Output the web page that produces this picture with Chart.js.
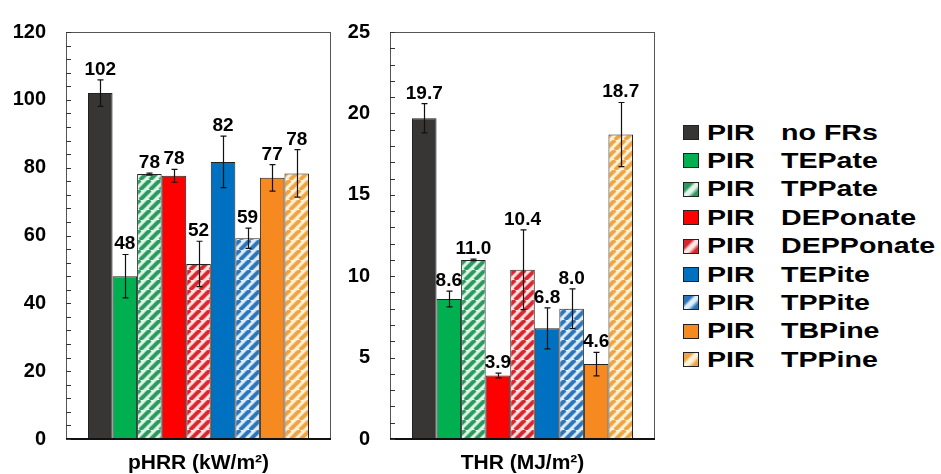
<!DOCTYPE html>
<html>
<head>
<meta charset="utf-8">
<title>pHRR and THR</title>
<script src="https://cdn.jsdelivr.net/npm/chart.js@4.4.0/dist/chart.umd.min.js"></script>
<style>
  body { margin: 0; background: #fff; }
  #wrap { position: relative; width: 941px; height: 474px; overflow: hidden; }
  #c1 { position: absolute; left: 0; top: 0; }
  #c2 { position: absolute; left: 335px; top: 0; }
  #legend { position: absolute; left: 660px; top: 0; width: 281px; height: 474px;
    font-family: 'Liberation Sans', Arial, sans-serif; font-weight: bold; font-size: 22px; color: #000; }
  .sw { position: absolute; left: 23px; width: 14px; height: 13px; border: 1px solid #222; }
  .txt { position: absolute; line-height: 22px; white-space: nowrap; transform: scaleX(1.3); transform-origin: left center; }
</style>
</head>
<body>
<div id="wrap">
  <canvas id="c1" width="335" height="474"></canvas>
  <canvas id="c2" width="325" height="474"></canvas>
  <div id="legend"></div>
</div>
<script>
// data
var sampleTag = 'PIR';
var seriesNames = ['no FRs', 'TEPate', 'TPPate', 'DEPonate', 'DEPPonate', 'TEPite', 'TPPite', 'TBPine', 'TPPine'];
var seriesColors = ['#383634', '#00b050', '#2a9a5c', '#ff0000', '#d8262f', '#0070c0', '#2b75b8', '#f6891f', '#eea445'];
var hatchBack = [null, null, '#e4f6ec', null, '#fde6e6', null, '#e2eff9', null, '#fff4da'];

var phrrTitle = 'pHRR (kW/m²)';
var phrrValues = [102.0, 48.0, 78.1, 77.6, 51.6, 81.7, 59.2, 77.0, 78.3];
var phrrErrors = [3.9, 6.4, 0.3, 1.9, 6.7, 7.6, 3.0, 3.9, 7.0];

var thrTitle = 'THR (MJ/m²)';
var thrValues = [19.7, 8.6, 11.0, 3.9, 10.4, 6.8, 8.0, 4.6, 18.7];
var thrErrors = [0.9, 0.48, 0.05, 0.15, 2.45, 1.26, 1.22, 0.72, 1.97];

var FONT = "'Liberation Sans', Arial, sans-serif";

function makeHatch(stripe, back) {
  var s = 10;
  var c = document.createElement('canvas');
  c.width = s; c.height = s;
  var g = c.getContext('2d');
  g.fillStyle = back;
  g.fillRect(0, 0, s, s);
  // soft edge first, then the stripe itself
  var passes = [[5.2, 0.35], [3.4, 1]];
  passes.forEach(function (p) {
    g.globalAlpha = p[1];
    g.strokeStyle = stripe;
    g.lineWidth = p[0];
    for (var k = -1; k <= 1; k++) {
      g.beginPath();
      g.moveTo(k * s, s);
      g.lineTo(k * s + s, 0);
      g.stroke();
    }
  });
  return g.createPattern(c, 'repeat');
}

// error bars, value labels, frame and inward ticks
var extrasPlugin = {
  id: 'extras',
  afterDatasetsDraw: function (chart, args, opts) {
    var ctx = chart.ctx, area = chart.chartArea, ys = chart.scales.y;
    ctx.save();
    // frame
    ctx.strokeStyle = '#555';
    ctx.lineWidth = 1;
    ctx.strokeRect(area.left + 0.5, area.top + 0.5, area.right - area.left - 1, area.bottom - area.top);
    ctx.strokeStyle = '#111';
    ctx.lineWidth = 2;
    ctx.beginPath();
    ctx.moveTo(area.left, area.bottom);
    ctx.lineTo(area.right, area.bottom);
    ctx.stroke();
    // inner ticks
    ctx.strokeStyle = '#333';
    ctx.lineWidth = 1;
    ys.ticks.forEach(function (t, i) {
      var py = Math.round(ys.getPixelForTick(i)) + 0.5;
      ctx.beginPath();
      ctx.moveTo(area.left, py);
      ctx.lineTo(area.left + 5, py);
      ctx.stroke();
    });
    // error bars and labels
    chart.data.datasets.forEach(function (ds, i) {
      var bar = chart.getDatasetMeta(i).data[0];
      var v = ds.data[0], e = opts.errors[i];
      var top = ys.getPixelForValue(v + e), bot = ys.getPixelForValue(v - e);
      var x = Math.round(bar.x) + 0.5;
      ctx.strokeStyle = '#111';
      ctx.lineWidth = 1.2;
      ctx.beginPath();
      ctx.moveTo(x, top); ctx.lineTo(x, bot);
      ctx.moveTo(x - 3, top); ctx.lineTo(x + 3, top);
      ctx.moveTo(x - 3, bot); ctx.lineTo(x + 3, bot);
      ctx.stroke();
      ctx.fillStyle = '#000';
      ctx.font = 'bold 19px ' + FONT;
      ctx.textAlign = 'center';
      ctx.textBaseline = 'alphabetic';
      ctx.fillText(v.toFixed(opts.decimals), bar.x, top - 5);
    });
    ctx.restore();
  }
};

function makeChart(id, title, values, errors, yMax, yStep, labelStep, decimals, axisWidth, rightPad) {
  var ctx = document.getElementById(id).getContext('2d');
  var datasets = seriesNames.map(function (name, i) {
    return {
      label: sampleTag + ' ' + name,
      data: [values[i]],
      backgroundColor: hatchBack[i] ? makeHatch(seriesColors[i], hatchBack[i]) : seriesColors[i],
      borderColor: '#222',
      borderWidth: 1,
      borderSkipped: false
    };
  });
  return new Chart(ctx, {
    type: 'bar',
    data: { labels: [title], datasets: datasets },
    options: {
      responsive: false,
      animation: false,
      layout: { padding: { left: 0, right: rightPad, top: 25, bottom: 0 } },
      datasets: { bar: { categoryPercentage: 0.834, barPercentage: 1.0 } },
      plugins: {
        legend: { display: false },
        tooltip: { enabled: false },
        extras: { errors: errors, decimals: decimals }
      },
      scales: {
        x: {
          grid: { display: false, drawTicks: false },
          border: { display: false },
          ticks: { color: '#000', padding: 12, font: { family: FONT, size: 21, weight: 'bold' } },
          afterFit: function (s) { s.height = 35; }
        },
        y: {
          min: 0,
          max: yMax,
          grid: { display: false, drawTicks: false },
          border: { display: false },
          ticks: {
            stepSize: yStep,
            autoSkip: false,
            maxTicksLimit: 100,
            padding: 20,
            color: '#000',
            font: { family: FONT, size: 20, weight: 'bold' },
            callback: function (v) { return v % labelStep === 0 ? v : ''; }
          },
          afterFit: function (s) { s.width = axisWidth; }
        }
      }
    },
    plugins: [extrasPlugin]
  });
}

makeChart('c1', phrrTitle, phrrValues, phrrErrors, 120, 4, 20, 0, 66, 4);
makeChart('c2', thrTitle, thrValues, thrErrors, 25, 1, 5, 1, 55, 5);

// legend
var legend = document.getElementById('legend');
seriesNames.forEach(function (name, i) {
  var cy = 132.5 + 28.4 * i;
  var sw = document.createElement('div');
  sw.className = 'sw';
  sw.style.top = (cy - 7.5) + 'px';
  if (hatchBack[i]) {
    sw.style.background = 'linear-gradient(135deg, ' + seriesColors[i] + ' 0%, ' + seriesColors[i] + ' 30%, ' + hatchBack[i] + ' 45%, ' + hatchBack[i] + ' 60%, ' + seriesColors[i] + ' 80%)';
  } else {
    sw.style.background = seriesColors[i];
  }
  legend.appendChild(sw);
  var t1 = document.createElement('div');
  t1.className = 'txt';
  t1.style.left = '47px';
  t1.style.top = (cy - 11) + 'px';
  t1.textContent = sampleTag;
  legend.appendChild(t1);
  var t2 = document.createElement('div');
  t2.className = 'txt';
  t2.style.left = '121px';
  t2.style.top = (cy - 11) + 'px';
  t2.textContent = name;
  legend.appendChild(t2);
});
</script>
</body>
</html>
